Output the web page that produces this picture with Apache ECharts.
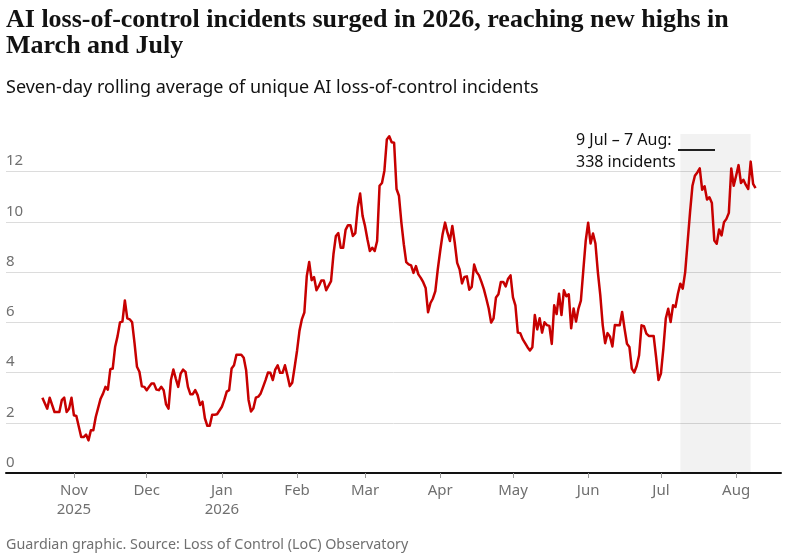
<!DOCTYPE html>
<html>
<head>
<meta charset="utf-8">
<script src="https://cdn.jsdelivr.net/npm/echarts@6/dist/echarts.min.js"></script>
<style>
  html, body { margin: 0; padding: 0; background: #fff; }
  #chart { width: 800px; height: 553px; }
</style>
</head>
<body>
<div id="chart"></div>
<script>
// 读图得到的日期和七日均值
var dates = [
    '2025-10-19', '2025-10-21', '2025-10-22', '2025-10-24', '2025-10-26', '2025-10-27', '2025-10-28', '2025-10-29', '2025-10-30', '2025-10-31',
    '2025-11-01', '2025-11-02', '2025-11-04', '2025-11-05', '2025-11-06', '2025-11-07', '2025-11-08', '2025-11-09', '2025-11-10', '2025-11-12',
    '2025-11-13', '2025-11-14', '2025-11-15', '2025-11-16', '2025-11-17', '2025-11-18', '2025-11-19', '2025-11-20', '2025-11-21', '2025-11-22',
    '2025-11-23', '2025-11-24', '2025-11-25', '2025-11-26', '2025-11-27', '2025-11-28', '2025-11-29', '2025-11-30',
    '2025-12-01', '2025-12-02', '2025-12-03', '2025-12-04', '2025-12-05', '2025-12-06', '2025-12-07', '2025-12-08', '2025-12-09', '2025-12-10',
    '2025-12-11', '2025-12-12', '2025-12-13', '2025-12-14', '2025-12-15', '2025-12-16', '2025-12-17', '2025-12-18', '2025-12-19', '2025-12-20',
    '2025-12-21', '2025-12-22', '2025-12-23', '2025-12-24', '2025-12-25', '2025-12-26', '2025-12-27', '2025-12-28', '2025-12-29', '2025-12-30',
    '2026-01-01', '2026-01-02', '2026-01-03', '2026-01-04', '2026-01-05', '2026-01-06', '2026-01-07', '2026-01-09', '2026-01-10', '2026-01-11',
    '2026-01-12', '2026-01-13', '2026-01-14', '2026-01-15', '2026-01-16', '2026-01-17', '2026-01-18', '2026-01-19', '2026-01-20', '2026-01-21',
    '2026-01-22', '2026-01-23', '2026-01-24', '2026-01-25', '2026-01-26', '2026-01-27', '2026-01-28', '2026-01-29', '2026-01-30', '2026-01-31',
    '2026-02-01', '2026-02-02', '2026-02-03', '2026-02-04', '2026-02-05', '2026-02-06', '2026-02-07', '2026-02-08', '2026-02-09', '2026-02-10',
    '2026-02-11', '2026-02-12', '2026-02-13', '2026-02-15', '2026-02-16', '2026-02-17', '2026-02-18', '2026-02-19', '2026-02-20', '2026-02-21',
    '2026-02-22', '2026-02-23', '2026-02-24', '2026-02-25', '2026-02-26', '2026-02-27', '2026-02-28',
    '2026-03-01', '2026-03-02', '2026-03-03', '2026-03-04', '2026-03-05', '2026-03-06', '2026-03-07', '2026-03-08', '2026-03-09', '2026-03-10',
    '2026-03-11', '2026-03-12', '2026-03-13', '2026-03-14', '2026-03-15', '2026-03-16', '2026-03-17', '2026-03-18', '2026-03-19', '2026-03-20',
    '2026-03-21', '2026-03-22', '2026-03-23', '2026-03-24', '2026-03-25', '2026-03-26', '2026-03-27', '2026-03-28', '2026-03-29', '2026-03-30',
    '2026-03-31',
    '2026-04-01', '2026-04-02', '2026-04-03', '2026-04-04', '2026-04-05', '2026-04-06', '2026-04-07', '2026-04-08', '2026-04-09', '2026-04-10',
    '2026-04-11', '2026-04-12', '2026-04-13', '2026-04-14', '2026-04-15', '2026-04-16', '2026-04-17', '2026-04-18', '2026-04-19', '2026-04-20',
    '2026-04-21', '2026-04-22', '2026-04-23', '2026-04-24', '2026-04-25', '2026-04-26', '2026-04-27', '2026-04-28', '2026-04-29', '2026-04-30',
    '2026-05-01', '2026-05-02', '2026-05-03', '2026-05-04', '2026-05-05', '2026-05-06', '2026-05-07', '2026-05-08', '2026-05-09', '2026-05-10',
    '2026-05-11', '2026-05-12', '2026-05-13', '2026-05-14', '2026-05-15', '2026-05-16', '2026-05-17', '2026-05-18', '2026-05-19', '2026-05-20',
    '2026-05-21', '2026-05-22', '2026-05-23', '2026-05-24', '2026-05-25', '2026-05-26', '2026-05-27', '2026-05-28', '2026-05-29', '2026-05-30',
    '2026-05-31',
    '2026-06-01', '2026-06-02', '2026-06-03', '2026-06-04', '2026-06-05', '2026-06-06', '2026-06-07', '2026-06-08', '2026-06-09', '2026-06-10',
    '2026-06-11', '2026-06-12', '2026-06-14', '2026-06-15', '2026-06-16', '2026-06-17', '2026-06-18', '2026-06-19', '2026-06-20', '2026-06-21',
    '2026-06-22', '2026-06-23', '2026-06-24', '2026-06-25', '2026-06-26', '2026-06-27', '2026-06-28', '2026-06-29', '2026-06-30',
    '2026-07-01', '2026-07-02', '2026-07-03', '2026-07-04', '2026-07-05', '2026-07-06', '2026-07-07', '2026-07-08', '2026-07-09', '2026-07-10',
    '2026-07-11', '2026-07-12', '2026-07-13', '2026-07-14', '2026-07-15', '2026-07-16', '2026-07-17', '2026-07-18', '2026-07-19', '2026-07-20',
    '2026-07-21', '2026-07-22', '2026-07-23', '2026-07-24', '2026-07-25', '2026-07-26', '2026-07-27', '2026-07-28', '2026-07-29', '2026-07-30',
    '2026-07-31',
    '2026-08-01', '2026-08-02', '2026-08-03', '2026-08-04', '2026-08-05', '2026-08-06', '2026-08-07', '2026-08-08', '2026-08-09'
];
var incidents = [
    3.0, 2.56, 3.0, 2.43, 2.43, 2.9, 3.0, 2.43, 2.56, 3.0,
    2.3, 2.27, 1.43, 1.43, 1.53, 1.3, 1.7, 1.7, 2.23, 2.96,
    3.16, 3.43, 3.32, 4.13, 4.16, 5.03, 5.45, 6.0, 6.03, 6.87,
    6.16, 6.12, 6.0, 5.16, 4.23, 4.03, 3.45, 3.43,
    3.3, 3.43, 3.56, 3.56, 3.32, 3.3, 3.43, 3.3, 2.73, 2.56,
    3.7, 4.12, 3.76, 3.43, 3.96, 4.12, 4.03, 3.43, 3.14, 3.14,
    3.3, 3.1, 2.71, 2.84, 2.18, 1.88, 1.88, 2.32, 2.32, 2.34,
    2.64, 2.91, 3.24, 3.3, 4.16, 4.29, 4.71, 4.71, 4.59, 4.09,
    2.91, 2.45, 2.58, 3.0, 3.04, 3.17, 3.43, 3.7, 4.0, 3.99,
    3.7, 4.12, 4.29, 3.99, 3.99, 4.29, 3.89, 3.46, 3.59, 4.22,
    4.88, 5.67, 6.13, 6.39, 7.84, 8.4, 7.68, 7.8, 7.28, 7.45,
    7.67, 7.67, 7.28, 7.64, 8.71, 9.44, 9.55, 8.97, 8.97, 9.68,
    9.87, 9.87, 9.44, 9.55, 10.57, 11.13, 10.24,
    9.84, 9.31, 8.84, 8.97, 8.84, 9.24, 11.44, 11.55, 12.04, 13.28,
    13.41, 13.17, 13.15, 11.31, 11.04, 9.97, 9.11, 8.4, 8.31, 8.27,
    7.97, 8.24, 7.91, 7.77, 7.6, 7.37, 6.4, 6.77, 6.95, 7.24,
    8.11,
    8.84, 9.51, 9.97, 9.57, 9.24, 9.84, 9.17, 8.37, 8.11, 7.55,
    7.81, 7.83, 7.3, 7.41, 8.3, 8.0, 7.87, 7.61, 7.32, 6.95,
    6.55, 5.99, 6.16, 6.99, 7.12, 7.61, 7.61, 7.43, 7.74, 7.87,
    6.99, 6.68, 5.59, 5.57, 5.33, 5.17, 5.01, 4.88, 5.01, 6.29,
    5.72, 6.16, 5.59, 6.0, 5.89, 5.86, 5.14, 6.68, 6.33, 7.14,
    6.29, 7.28, 7.04, 7.12, 5.76, 6.55, 6.03, 6.55, 6.86, 8.07,
    9.25,
    9.97, 9.14, 9.54, 9.14, 8.0, 7.08, 5.89, 5.17, 5.57, 5.43,
    5.04, 5.89, 5.88, 6.41, 5.75, 5.15, 5.02, 4.16, 4.0, 4.26,
    4.69, 5.88, 5.85, 5.55, 5.46, 5.46, 5.46, 4.62, 3.7,
    3.96, 4.95, 6.15, 6.54, 6.01, 6.68, 6.61, 7.14, 7.54, 7.34,
    8.0, 9.19, 10.38, 11.44, 11.84, 11.97, 12.13, 11.28, 11.42, 10.89,
    10.98, 10.75, 9.26, 9.13, 9.7, 9.46, 9.99, 10.12, 10.36, 12.13,
    11.44,
    11.84, 12.26, 11.55, 11.68, 11.47, 11.31, 12.4, 11.51, 11.34
];
var yTicks = [0, 2, 4, 6, 8, 10, 12];
var monthNames = ['Jan', 'Feb', 'Mar', 'Apr', 'May', 'Jun', 'Jul', 'Aug', 'Sep', 'Oct', 'Nov', 'Dec'];
var highlight = ['2026-07-09', '2026-08-07'];

var greyText = '#707070';
var sansFont = '"Noto Sans", "Open Sans", sans-serif';

var myChart = echarts.init(document.getElementById('chart'));

var seriesData = dates.map(function (d, i) {
    return [d, incidents[i]];
});

var option = {
    animation: false,
    backgroundColor: '#ffffff',
    title: [
        {
            text: 'AI loss-of-control incidents surged in 2026, reaching new highs in\nMarch and July',
            left: 6,
            top: 7,
            padding: 0,
            textStyle: {
                fontFamily: '"Liberation Serif", serif',
                fontWeight: 'bold',
                fontSize: 26,
                lineHeight: 26,
                color: '#121212'
            }
        },
        {
            text: 'Seven-day rolling average of unique AI loss-of-control incidents',
            left: 6,
            top: 77,
            padding: 0,
            textStyle: {
                fontFamily: sansFont,
                fontWeight: 'normal',
                fontSize: 18,
                lineHeight: 22,
                color: '#121212'
            }
        },
        {
            text: 'Guardian graphic. Source: Loss of Control (LoC) Observatory',
            left: 6,
            top: 536,
            padding: 0,
            textStyle: {
                fontFamily: sansFont,
                fontWeight: 'normal',
                fontSize: 14.3,
                lineHeight: 18,
                color: greyText
            }
        }
    ],
    grid: {
        left: 6,
        right: 19,
        top: 134,
        bottom: 80
    },
    xAxis: {
        type: 'time',
        min: '2025-10-04',
        max: '2026-08-19 12:00',
        minInterval: 28 * 86400000,
        maxInterval: 31 * 86400000,
        axisLine: { lineStyle: { color: '#121212', width: 2 } },
        axisTick: { show: true, length: 5, lineStyle: { color: '#999999' } },
        splitLine: { show: false },
        axisLabel: {
            margin: 8,
            fontFamily: sansFont,
            fontSize: 15,
            lineHeight: 19,
            color: greyText,
            formatter: function (val) {
                var d = new Date(val);
                var m = d.getMonth();
                var name = monthNames[m];
                if (d.getFullYear() === 2025 && m === 10) return name + '\n2025';
                if (m === 0) return name + '\n' + d.getFullYear();
                return name;
            }
        }
    },
    yAxis: {
        type: 'value',
        min: 0,
        max: 13.5,
        interval: 2,
        axisLine: { show: false },
        axisTick: { show: false },
        splitLine: { show: true, showMaxLine: false, lineStyle: { color: '#dcdcdc', width: 1 } },
        axisLabel: {
            inside: true,
            margin: 0,
            verticalAlign: 'bottom',
            padding: [0, 0, 3, 0],
            showMaxLabel: false,
            fontFamily: sansFont,
            fontSize: 15,
            color: greyText,
            formatter: function (v) {
                return yTicks.indexOf(v) >= 0 ? String(v) : '';
            }
        }
    },
    series: [
        {
            type: 'line',
            data: seriesData,
            showSymbol: false,
            symbol: 'none',
            lineStyle: { color: '#c70000', width: 2.5, join: 'round' },
            z: 3,
            markArea: {
                silent: true,
                itemStyle: { color: 'rgba(0,0,0,0.05)' },
                data: [[{ xAxis: highlight[0] }, { xAxis: highlight[1] }]]
            }
        }
    ],
    graphic: [
        {
            type: 'text',
            left: 576,
            top: 129,
            style: {
                text: '9 Jul – 7 Aug:\n338 incidents',
                font: '16px "Noto Sans", "Open Sans", sans-serif',
                lineHeight: 22,
                fill: '#121212'
            }
        },
        {
            type: 'line',
            shape: { x1: 678, y1: 150, x2: 715, y2: 150 },
            style: { stroke: '#222222', lineWidth: 2 }
        }
    ]
};

myChart.setOption(option);
</script>
</body>
</html>
